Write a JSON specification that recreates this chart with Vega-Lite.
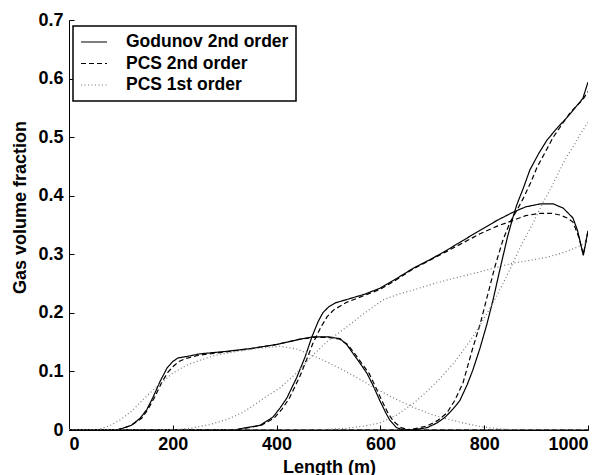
{
  "$schema": "https://vega.github.io/schema/vega-lite/v6.json",
  "width": 519,
  "height": 410,
  "autosize": "none",
  "padding": {"left": 69, "top": 20, "right": 22, "bottom": 45},
  "background": "white",
  "config": {
    "view": {"stroke": null},
    "font": "Liberation Sans",
    "axis": {
      "grid": false,
      "domainColor": "black",
      "domainWidth": 1,
      "tickColor": "black",
      "tickSize": -5,
      "tickWidth": 1,
      "labelFont": "Liberation Sans",
      "labelFontSize": 18,
      "labelFontWeight": "bold",
      "labelColor": "black",
      "titleFont": "Liberation Sans",
      "titleFontSize": 18,
      "titleFontWeight": "bold",
      "titleColor": "black"
    },
    "legend": {
      "orient": "none",
      "legendX": 4,
      "legendY": 6,
      "strokeColor": "black",
      "strokeWidth": 1.5,
      "fillColor": "white",
      "padding": 7,
      "labelFont": "Liberation Sans",
      "labelFontSize": 17.5,
      "labelFontWeight": "bold",
      "labelColor": "black",
      "labelOffset": 18,
      "symbolType": "stroke",
      "symbolSize": 676,
      "symbolStrokeWidth": 1.2,
      "clipHeight": 18,
      "rowPadding": 3.5,
      "labelLimit": 400
    }
  },
  "data": {
    "values": [
      {"method": "Godunov 2nd order", "run": "t1", "x": 0, "y": 0},
      {"method": "Godunov 2nd order", "run": "t1", "x": 90, "y": 0},
      {"method": "Godunov 2nd order", "run": "t1", "x": 100, "y": 0.002},
      {"method": "Godunov 2nd order", "run": "t1", "x": 120, "y": 0.008},
      {"method": "Godunov 2nd order", "run": "t1", "x": 137, "y": 0.02},
      {"method": "Godunov 2nd order", "run": "t1", "x": 150, "y": 0.035},
      {"method": "Godunov 2nd order", "run": "t1", "x": 162, "y": 0.056},
      {"method": "Godunov 2nd order", "run": "t1", "x": 175, "y": 0.082},
      {"method": "Godunov 2nd order", "run": "t1", "x": 189, "y": 0.106},
      {"method": "Godunov 2nd order", "run": "t1", "x": 200, "y": 0.117},
      {"method": "Godunov 2nd order", "run": "t1", "x": 210, "y": 0.123},
      {"method": "Godunov 2nd order", "run": "t1", "x": 230, "y": 0.126},
      {"method": "Godunov 2nd order", "run": "t1", "x": 252, "y": 0.13},
      {"method": "Godunov 2nd order", "run": "t1", "x": 300, "y": 0.134},
      {"method": "Godunov 2nd order", "run": "t1", "x": 350, "y": 0.139},
      {"method": "Godunov 2nd order", "run": "t1", "x": 400, "y": 0.146},
      {"method": "Godunov 2nd order", "run": "t1", "x": 445, "y": 0.155},
      {"method": "Godunov 2nd order", "run": "t1", "x": 470, "y": 0.159},
      {"method": "Godunov 2nd order", "run": "t1", "x": 500, "y": 0.159},
      {"method": "Godunov 2nd order", "run": "t1", "x": 522, "y": 0.156},
      {"method": "Godunov 2nd order", "run": "t1", "x": 535, "y": 0.146},
      {"method": "Godunov 2nd order", "run": "t1", "x": 547, "y": 0.131},
      {"method": "Godunov 2nd order", "run": "t1", "x": 560, "y": 0.115},
      {"method": "Godunov 2nd order", "run": "t1", "x": 574, "y": 0.097},
      {"method": "Godunov 2nd order", "run": "t1", "x": 587, "y": 0.074},
      {"method": "Godunov 2nd order", "run": "t1", "x": 599, "y": 0.05},
      {"method": "Godunov 2nd order", "run": "t1", "x": 610, "y": 0.03},
      {"method": "Godunov 2nd order", "run": "t1", "x": 618, "y": 0.017},
      {"method": "Godunov 2nd order", "run": "t1", "x": 631, "y": 0.004},
      {"method": "Godunov 2nd order", "run": "t1", "x": 645, "y": 0},
      {"method": "Godunov 2nd order", "run": "t1", "x": 1000, "y": 0},

      {"method": "Godunov 2nd order", "run": "t2", "x": 0, "y": 0},
      {"method": "Godunov 2nd order", "run": "t2", "x": 320, "y": 0},
      {"method": "Godunov 2nd order", "run": "t2", "x": 335, "y": 0.003},
      {"method": "Godunov 2nd order", "run": "t2", "x": 368, "y": 0.008},
      {"method": "Godunov 2nd order", "run": "t2", "x": 393, "y": 0.022},
      {"method": "Godunov 2nd order", "run": "t2", "x": 407, "y": 0.038},
      {"method": "Godunov 2nd order", "run": "t2", "x": 420, "y": 0.055},
      {"method": "Godunov 2nd order", "run": "t2", "x": 439, "y": 0.09},
      {"method": "Godunov 2nd order", "run": "t2", "x": 455, "y": 0.125},
      {"method": "Godunov 2nd order", "run": "t2", "x": 468, "y": 0.159},
      {"method": "Godunov 2nd order", "run": "t2", "x": 480, "y": 0.185},
      {"method": "Godunov 2nd order", "run": "t2", "x": 489, "y": 0.2},
      {"method": "Godunov 2nd order", "run": "t2", "x": 500, "y": 0.21},
      {"method": "Godunov 2nd order", "run": "t2", "x": 513, "y": 0.217},
      {"method": "Godunov 2nd order", "run": "t2", "x": 540, "y": 0.224},
      {"method": "Godunov 2nd order", "run": "t2", "x": 570, "y": 0.232},
      {"method": "Godunov 2nd order", "run": "t2", "x": 599, "y": 0.242},
      {"method": "Godunov 2nd order", "run": "t2", "x": 630, "y": 0.258},
      {"method": "Godunov 2nd order", "run": "t2", "x": 663, "y": 0.276},
      {"method": "Godunov 2nd order", "run": "t2", "x": 700, "y": 0.293},
      {"method": "Godunov 2nd order", "run": "t2", "x": 728, "y": 0.307},
      {"method": "Godunov 2nd order", "run": "t2", "x": 760, "y": 0.324},
      {"method": "Godunov 2nd order", "run": "t2", "x": 792, "y": 0.341},
      {"method": "Godunov 2nd order", "run": "t2", "x": 825, "y": 0.358},
      {"method": "Godunov 2nd order", "run": "t2", "x": 856, "y": 0.372},
      {"method": "Godunov 2nd order", "run": "t2", "x": 880, "y": 0.381},
      {"method": "Godunov 2nd order", "run": "t2", "x": 908, "y": 0.386},
      {"method": "Godunov 2nd order", "run": "t2", "x": 933, "y": 0.386},
      {"method": "Godunov 2nd order", "run": "t2", "x": 952, "y": 0.379},
      {"method": "Godunov 2nd order", "run": "t2", "x": 971, "y": 0.362},
      {"method": "Godunov 2nd order", "run": "t2", "x": 980, "y": 0.34},
      {"method": "Godunov 2nd order", "run": "t2", "x": 991, "y": 0.298},
      {"method": "Godunov 2nd order", "run": "t2", "x": 1000, "y": 0.34},

      {"method": "Godunov 2nd order", "run": "t3", "x": 0, "y": 0},
      {"method": "Godunov 2nd order", "run": "t3", "x": 660, "y": 0},
      {"method": "Godunov 2nd order", "run": "t3", "x": 690, "y": 0.004},
      {"method": "Godunov 2nd order", "run": "t3", "x": 709, "y": 0.012},
      {"method": "Godunov 2nd order", "run": "t3", "x": 725, "y": 0.022},
      {"method": "Godunov 2nd order", "run": "t3", "x": 740, "y": 0.036},
      {"method": "Godunov 2nd order", "run": "t3", "x": 753, "y": 0.05},
      {"method": "Godunov 2nd order", "run": "t3", "x": 767, "y": 0.077},
      {"method": "Godunov 2nd order", "run": "t3", "x": 778, "y": 0.102},
      {"method": "Godunov 2nd order", "run": "t3", "x": 792, "y": 0.14},
      {"method": "Godunov 2nd order", "run": "t3", "x": 805, "y": 0.18},
      {"method": "Godunov 2nd order", "run": "t3", "x": 817, "y": 0.222},
      {"method": "Godunov 2nd order", "run": "t3", "x": 830, "y": 0.273},
      {"method": "Godunov 2nd order", "run": "t3", "x": 845, "y": 0.33},
      {"method": "Godunov 2nd order", "run": "t3", "x": 856, "y": 0.365},
      {"method": "Godunov 2nd order", "run": "t3", "x": 863, "y": 0.385},
      {"method": "Godunov 2nd order", "run": "t3", "x": 875, "y": 0.412},
      {"method": "Godunov 2nd order", "run": "t3", "x": 888, "y": 0.444},
      {"method": "Godunov 2nd order", "run": "t3", "x": 905, "y": 0.472},
      {"method": "Godunov 2nd order", "run": "t3", "x": 921, "y": 0.495},
      {"method": "Godunov 2nd order", "run": "t3", "x": 940, "y": 0.515},
      {"method": "Godunov 2nd order", "run": "t3", "x": 960, "y": 0.534},
      {"method": "Godunov 2nd order", "run": "t3", "x": 975, "y": 0.55},
      {"method": "Godunov 2nd order", "run": "t3", "x": 990, "y": 0.566},
      {"method": "Godunov 2nd order", "run": "t3", "x": 1000, "y": 0.594},

      {"method": "PCS 2nd order", "run": "t1", "x": 0, "y": 0},
      {"method": "PCS 2nd order", "run": "t1", "x": 90, "y": 0},
      {"method": "PCS 2nd order", "run": "t1", "x": 105, "y": 0.003},
      {"method": "PCS 2nd order", "run": "t1", "x": 120, "y": 0.008},
      {"method": "PCS 2nd order", "run": "t1", "x": 140, "y": 0.02},
      {"method": "PCS 2nd order", "run": "t1", "x": 152, "y": 0.035},
      {"method": "PCS 2nd order", "run": "t1", "x": 165, "y": 0.056},
      {"method": "PCS 2nd order", "run": "t1", "x": 178, "y": 0.08},
      {"method": "PCS 2nd order", "run": "t1", "x": 190, "y": 0.098},
      {"method": "PCS 2nd order", "run": "t1", "x": 200, "y": 0.108},
      {"method": "PCS 2nd order", "run": "t1", "x": 212, "y": 0.117},
      {"method": "PCS 2nd order", "run": "t1", "x": 225, "y": 0.122},
      {"method": "PCS 2nd order", "run": "t1", "x": 252, "y": 0.128},
      {"method": "PCS 2nd order", "run": "t1", "x": 300, "y": 0.133},
      {"method": "PCS 2nd order", "run": "t1", "x": 350, "y": 0.139},
      {"method": "PCS 2nd order", "run": "t1", "x": 400, "y": 0.146},
      {"method": "PCS 2nd order", "run": "t1", "x": 445, "y": 0.155},
      {"method": "PCS 2nd order", "run": "t1", "x": 470, "y": 0.158},
      {"method": "PCS 2nd order", "run": "t1", "x": 500, "y": 0.158},
      {"method": "PCS 2nd order", "run": "t1", "x": 522, "y": 0.155},
      {"method": "PCS 2nd order", "run": "t1", "x": 537, "y": 0.146},
      {"method": "PCS 2nd order", "run": "t1", "x": 550, "y": 0.131},
      {"method": "PCS 2nd order", "run": "t1", "x": 563, "y": 0.115},
      {"method": "PCS 2nd order", "run": "t1", "x": 578, "y": 0.097},
      {"method": "PCS 2nd order", "run": "t1", "x": 590, "y": 0.075},
      {"method": "PCS 2nd order", "run": "t1", "x": 603, "y": 0.05},
      {"method": "PCS 2nd order", "run": "t1", "x": 614, "y": 0.03},
      {"method": "PCS 2nd order", "run": "t1", "x": 625, "y": 0.015},
      {"method": "PCS 2nd order", "run": "t1", "x": 640, "y": 0.004},
      {"method": "PCS 2nd order", "run": "t1", "x": 655, "y": 0},
      {"method": "PCS 2nd order", "run": "t1", "x": 1000, "y": 0},

      {"method": "PCS 2nd order", "run": "t2", "x": 0, "y": 0},
      {"method": "PCS 2nd order", "run": "t2", "x": 320, "y": 0},
      {"method": "PCS 2nd order", "run": "t2", "x": 340, "y": 0.003},
      {"method": "PCS 2nd order", "run": "t2", "x": 370, "y": 0.008},
      {"method": "PCS 2nd order", "run": "t2", "x": 395, "y": 0.02},
      {"method": "PCS 2nd order", "run": "t2", "x": 410, "y": 0.035},
      {"method": "PCS 2nd order", "run": "t2", "x": 425, "y": 0.055},
      {"method": "PCS 2nd order", "run": "t2", "x": 445, "y": 0.092},
      {"method": "PCS 2nd order", "run": "t2", "x": 460, "y": 0.125},
      {"method": "PCS 2nd order", "run": "t2", "x": 470, "y": 0.148},
      {"method": "PCS 2nd order", "run": "t2", "x": 485, "y": 0.175},
      {"method": "PCS 2nd order", "run": "t2", "x": 497, "y": 0.193},
      {"method": "PCS 2nd order", "run": "t2", "x": 510, "y": 0.205},
      {"method": "PCS 2nd order", "run": "t2", "x": 535, "y": 0.218},
      {"method": "PCS 2nd order", "run": "t2", "x": 570, "y": 0.23},
      {"method": "PCS 2nd order", "run": "t2", "x": 599, "y": 0.24},
      {"method": "PCS 2nd order", "run": "t2", "x": 630, "y": 0.256},
      {"method": "PCS 2nd order", "run": "t2", "x": 663, "y": 0.275},
      {"method": "PCS 2nd order", "run": "t2", "x": 700, "y": 0.292},
      {"method": "PCS 2nd order", "run": "t2", "x": 728, "y": 0.305},
      {"method": "PCS 2nd order", "run": "t2", "x": 760, "y": 0.32},
      {"method": "PCS 2nd order", "run": "t2", "x": 792, "y": 0.335},
      {"method": "PCS 2nd order", "run": "t2", "x": 825, "y": 0.348},
      {"method": "PCS 2nd order", "run": "t2", "x": 856, "y": 0.358},
      {"method": "PCS 2nd order", "run": "t2", "x": 880, "y": 0.366},
      {"method": "PCS 2nd order", "run": "t2", "x": 908, "y": 0.37},
      {"method": "PCS 2nd order", "run": "t2", "x": 930, "y": 0.37},
      {"method": "PCS 2nd order", "run": "t2", "x": 946, "y": 0.367},
      {"method": "PCS 2nd order", "run": "t2", "x": 960, "y": 0.362},
      {"method": "PCS 2nd order", "run": "t2", "x": 971, "y": 0.355},
      {"method": "PCS 2nd order", "run": "t2", "x": 982, "y": 0.33},
      {"method": "PCS 2nd order", "run": "t2", "x": 991, "y": 0.3},
      {"method": "PCS 2nd order", "run": "t2", "x": 1000, "y": 0.34},

      {"method": "PCS 2nd order", "run": "t3", "x": 0, "y": 0},
      {"method": "PCS 2nd order", "run": "t3", "x": 645, "y": 0},
      {"method": "PCS 2nd order", "run": "t3", "x": 665, "y": 0.002},
      {"method": "PCS 2nd order", "run": "t3", "x": 690, "y": 0.007},
      {"method": "PCS 2nd order", "run": "t3", "x": 710, "y": 0.016},
      {"method": "PCS 2nd order", "run": "t3", "x": 728, "y": 0.029},
      {"method": "PCS 2nd order", "run": "t3", "x": 743, "y": 0.05},
      {"method": "PCS 2nd order", "run": "t3", "x": 759, "y": 0.08},
      {"method": "PCS 2nd order", "run": "t3", "x": 778, "y": 0.14},
      {"method": "PCS 2nd order", "run": "t3", "x": 792, "y": 0.18},
      {"method": "PCS 2nd order", "run": "t3", "x": 805, "y": 0.225},
      {"method": "PCS 2nd order", "run": "t3", "x": 821, "y": 0.28},
      {"method": "PCS 2nd order", "run": "t3", "x": 836, "y": 0.324},
      {"method": "PCS 2nd order", "run": "t3", "x": 850, "y": 0.355},
      {"method": "PCS 2nd order", "run": "t3", "x": 863, "y": 0.375},
      {"method": "PCS 2nd order", "run": "t3", "x": 875, "y": 0.395},
      {"method": "PCS 2nd order", "run": "t3", "x": 890, "y": 0.423},
      {"method": "PCS 2nd order", "run": "t3", "x": 902, "y": 0.449},
      {"method": "PCS 2nd order", "run": "t3", "x": 918, "y": 0.475},
      {"method": "PCS 2nd order", "run": "t3", "x": 933, "y": 0.5},
      {"method": "PCS 2nd order", "run": "t3", "x": 950, "y": 0.522},
      {"method": "PCS 2nd order", "run": "t3", "x": 965, "y": 0.541},
      {"method": "PCS 2nd order", "run": "t3", "x": 980, "y": 0.555},
      {"method": "PCS 2nd order", "run": "t3", "x": 990, "y": 0.564},
      {"method": "PCS 2nd order", "run": "t3", "x": 1000, "y": 0.578},

      {"method": "PCS 1st order", "run": "t1", "x": 0, "y": 0},
      {"method": "PCS 1st order", "run": "t1", "x": 50, "y": 0},
      {"method": "PCS 1st order", "run": "t1", "x": 60, "y": 0.002},
      {"method": "PCS 1st order", "run": "t1", "x": 80, "y": 0.008},
      {"method": "PCS 1st order", "run": "t1", "x": 100, "y": 0.018},
      {"method": "PCS 1st order", "run": "t1", "x": 123, "y": 0.034},
      {"method": "PCS 1st order", "run": "t1", "x": 145, "y": 0.054},
      {"method": "PCS 1st order", "run": "t1", "x": 169, "y": 0.074},
      {"method": "PCS 1st order", "run": "t1", "x": 200, "y": 0.097},
      {"method": "PCS 1st order", "run": "t1", "x": 225, "y": 0.11},
      {"method": "PCS 1st order", "run": "t1", "x": 252, "y": 0.119},
      {"method": "PCS 1st order", "run": "t1", "x": 280, "y": 0.127},
      {"method": "PCS 1st order", "run": "t1", "x": 316, "y": 0.133},
      {"method": "PCS 1st order", "run": "t1", "x": 360, "y": 0.139},
      {"method": "PCS 1st order", "run": "t1", "x": 407, "y": 0.143},
      {"method": "PCS 1st order", "run": "t1", "x": 440, "y": 0.138},
      {"method": "PCS 1st order", "run": "t1", "x": 470, "y": 0.127},
      {"method": "PCS 1st order", "run": "t1", "x": 500, "y": 0.115},
      {"method": "PCS 1st order", "run": "t1", "x": 535, "y": 0.099},
      {"method": "PCS 1st order", "run": "t1", "x": 560, "y": 0.087},
      {"method": "PCS 1st order", "run": "t1", "x": 586, "y": 0.073},
      {"method": "PCS 1st order", "run": "t1", "x": 620, "y": 0.057},
      {"method": "PCS 1st order", "run": "t1", "x": 663, "y": 0.039},
      {"method": "PCS 1st order", "run": "t1", "x": 700, "y": 0.026},
      {"method": "PCS 1st order", "run": "t1", "x": 728, "y": 0.019},
      {"method": "PCS 1st order", "run": "t1", "x": 760, "y": 0.012},
      {"method": "PCS 1st order", "run": "t1", "x": 792, "y": 0.006},
      {"method": "PCS 1st order", "run": "t1", "x": 830, "y": 0.002},
      {"method": "PCS 1st order", "run": "t1", "x": 870, "y": 0},
      {"method": "PCS 1st order", "run": "t1", "x": 1000, "y": 0},

      {"method": "PCS 1st order", "run": "t2", "x": 0, "y": 0},
      {"method": "PCS 1st order", "run": "t2", "x": 200, "y": 0},
      {"method": "PCS 1st order", "run": "t2", "x": 233, "y": 0.003},
      {"method": "PCS 1st order", "run": "t2", "x": 270, "y": 0.009},
      {"method": "PCS 1st order", "run": "t2", "x": 304, "y": 0.018},
      {"method": "PCS 1st order", "run": "t2", "x": 335, "y": 0.03},
      {"method": "PCS 1st order", "run": "t2", "x": 362, "y": 0.046},
      {"method": "PCS 1st order", "run": "t2", "x": 385, "y": 0.06},
      {"method": "PCS 1st order", "run": "t2", "x": 407, "y": 0.072},
      {"method": "PCS 1st order", "run": "t2", "x": 439, "y": 0.098},
      {"method": "PCS 1st order", "run": "t2", "x": 470, "y": 0.128},
      {"method": "PCS 1st order", "run": "t2", "x": 500, "y": 0.153},
      {"method": "PCS 1st order", "run": "t2", "x": 535, "y": 0.176},
      {"method": "PCS 1st order", "run": "t2", "x": 570, "y": 0.2},
      {"method": "PCS 1st order", "run": "t2", "x": 605, "y": 0.222},
      {"method": "PCS 1st order", "run": "t2", "x": 635, "y": 0.232},
      {"method": "PCS 1st order", "run": "t2", "x": 663, "y": 0.239},
      {"method": "PCS 1st order", "run": "t2", "x": 700, "y": 0.249},
      {"method": "PCS 1st order", "run": "t2", "x": 728, "y": 0.256},
      {"method": "PCS 1st order", "run": "t2", "x": 760, "y": 0.263},
      {"method": "PCS 1st order", "run": "t2", "x": 792, "y": 0.27},
      {"method": "PCS 1st order", "run": "t2", "x": 825, "y": 0.278},
      {"method": "PCS 1st order", "run": "t2", "x": 856, "y": 0.285},
      {"method": "PCS 1st order", "run": "t2", "x": 890, "y": 0.29},
      {"method": "PCS 1st order", "run": "t2", "x": 921, "y": 0.295},
      {"method": "PCS 1st order", "run": "t2", "x": 950, "y": 0.302},
      {"method": "PCS 1st order", "run": "t2", "x": 979, "y": 0.312},
      {"method": "PCS 1st order", "run": "t2", "x": 1000, "y": 0.322},

      {"method": "PCS 1st order", "run": "t3", "x": 0, "y": 0},
      {"method": "PCS 1st order", "run": "t3", "x": 480, "y": 0},
      {"method": "PCS 1st order", "run": "t3", "x": 535, "y": 0.003},
      {"method": "PCS 1st order", "run": "t3", "x": 570, "y": 0.007},
      {"method": "PCS 1st order", "run": "t3", "x": 599, "y": 0.012},
      {"method": "PCS 1st order", "run": "t3", "x": 630, "y": 0.025},
      {"method": "PCS 1st order", "run": "t3", "x": 663, "y": 0.045},
      {"method": "PCS 1st order", "run": "t3", "x": 690, "y": 0.066},
      {"method": "PCS 1st order", "run": "t3", "x": 715, "y": 0.088},
      {"method": "PCS 1st order", "run": "t3", "x": 740, "y": 0.113},
      {"method": "PCS 1st order", "run": "t3", "x": 759, "y": 0.135},
      {"method": "PCS 1st order", "run": "t3", "x": 778, "y": 0.159},
      {"method": "PCS 1st order", "run": "t3", "x": 798, "y": 0.188},
      {"method": "PCS 1st order", "run": "t3", "x": 817, "y": 0.217},
      {"method": "PCS 1st order", "run": "t3", "x": 835, "y": 0.248},
      {"method": "PCS 1st order", "run": "t3", "x": 850, "y": 0.275},
      {"method": "PCS 1st order", "run": "t3", "x": 870, "y": 0.313},
      {"method": "PCS 1st order", "run": "t3", "x": 894, "y": 0.353},
      {"method": "PCS 1st order", "run": "t3", "x": 913, "y": 0.388},
      {"method": "PCS 1st order", "run": "t3", "x": 930, "y": 0.415},
      {"method": "PCS 1st order", "run": "t3", "x": 946, "y": 0.445},
      {"method": "PCS 1st order", "run": "t3", "x": 960, "y": 0.468},
      {"method": "PCS 1st order", "run": "t3", "x": 971, "y": 0.483},
      {"method": "PCS 1st order", "run": "t3", "x": 985, "y": 0.505},
      {"method": "PCS 1st order", "run": "t3", "x": 1000, "y": 0.525}
    ]
  },
  "mark": {"type": "line", "strokeWidth": 1.2, "clip": true},
  "encoding": {
    "x": {
      "field": "x",
      "type": "quantitative",
      "scale": {"domain": [0, 1000], "nice": false},
      "axis": {
        "title": "Length (m)",
        "values": [0, 200, 400, 600, 800, 1000],
        "format": "d",
        "labelPadding": 10,
        "titleX": 260,
        "titleY": 42,
        "titleBaseline": "alphabetic",
        "titleAlign": "center"
      }
    },
    "y": {
      "field": "y",
      "type": "quantitative",
      "scale": {"domain": [0, 0.7], "nice": false},
      "axis": {
        "title": "Gas volume fraction",
        "values": [0, 0.1, 0.2, 0.3, 0.4, 0.5, 0.6, 0.7],
        "labelExpr": "datum.value == 0 ? '0' : format(datum.value, '.1f')",
        "labelPadding": 11,
        "titleX": -44,
        "titleY": 187,
        "titleBaseline": "alphabetic",
        "titleAlign": "center",
        "titleAngle": -90
      }
    },
    "detail": {"field": "run"},
    "strokeDash": {
      "field": "method",
      "type": "nominal",
      "scale": {
        "domain": ["Godunov 2nd order", "PCS 2nd order", "PCS 1st order"],
        "range": [[1, 0], [5, 3], [1, 2.5]]
      },
      "legend": {"title": null}
    },
    "color": {
      "field": "method",
      "type": "nominal",
      "scale": {
        "domain": ["Godunov 2nd order", "PCS 2nd order", "PCS 1st order"],
        "range": ["#000000", "#000000", "#777777"]
      },
      "legend": {"title": null}
    }
  }
}
